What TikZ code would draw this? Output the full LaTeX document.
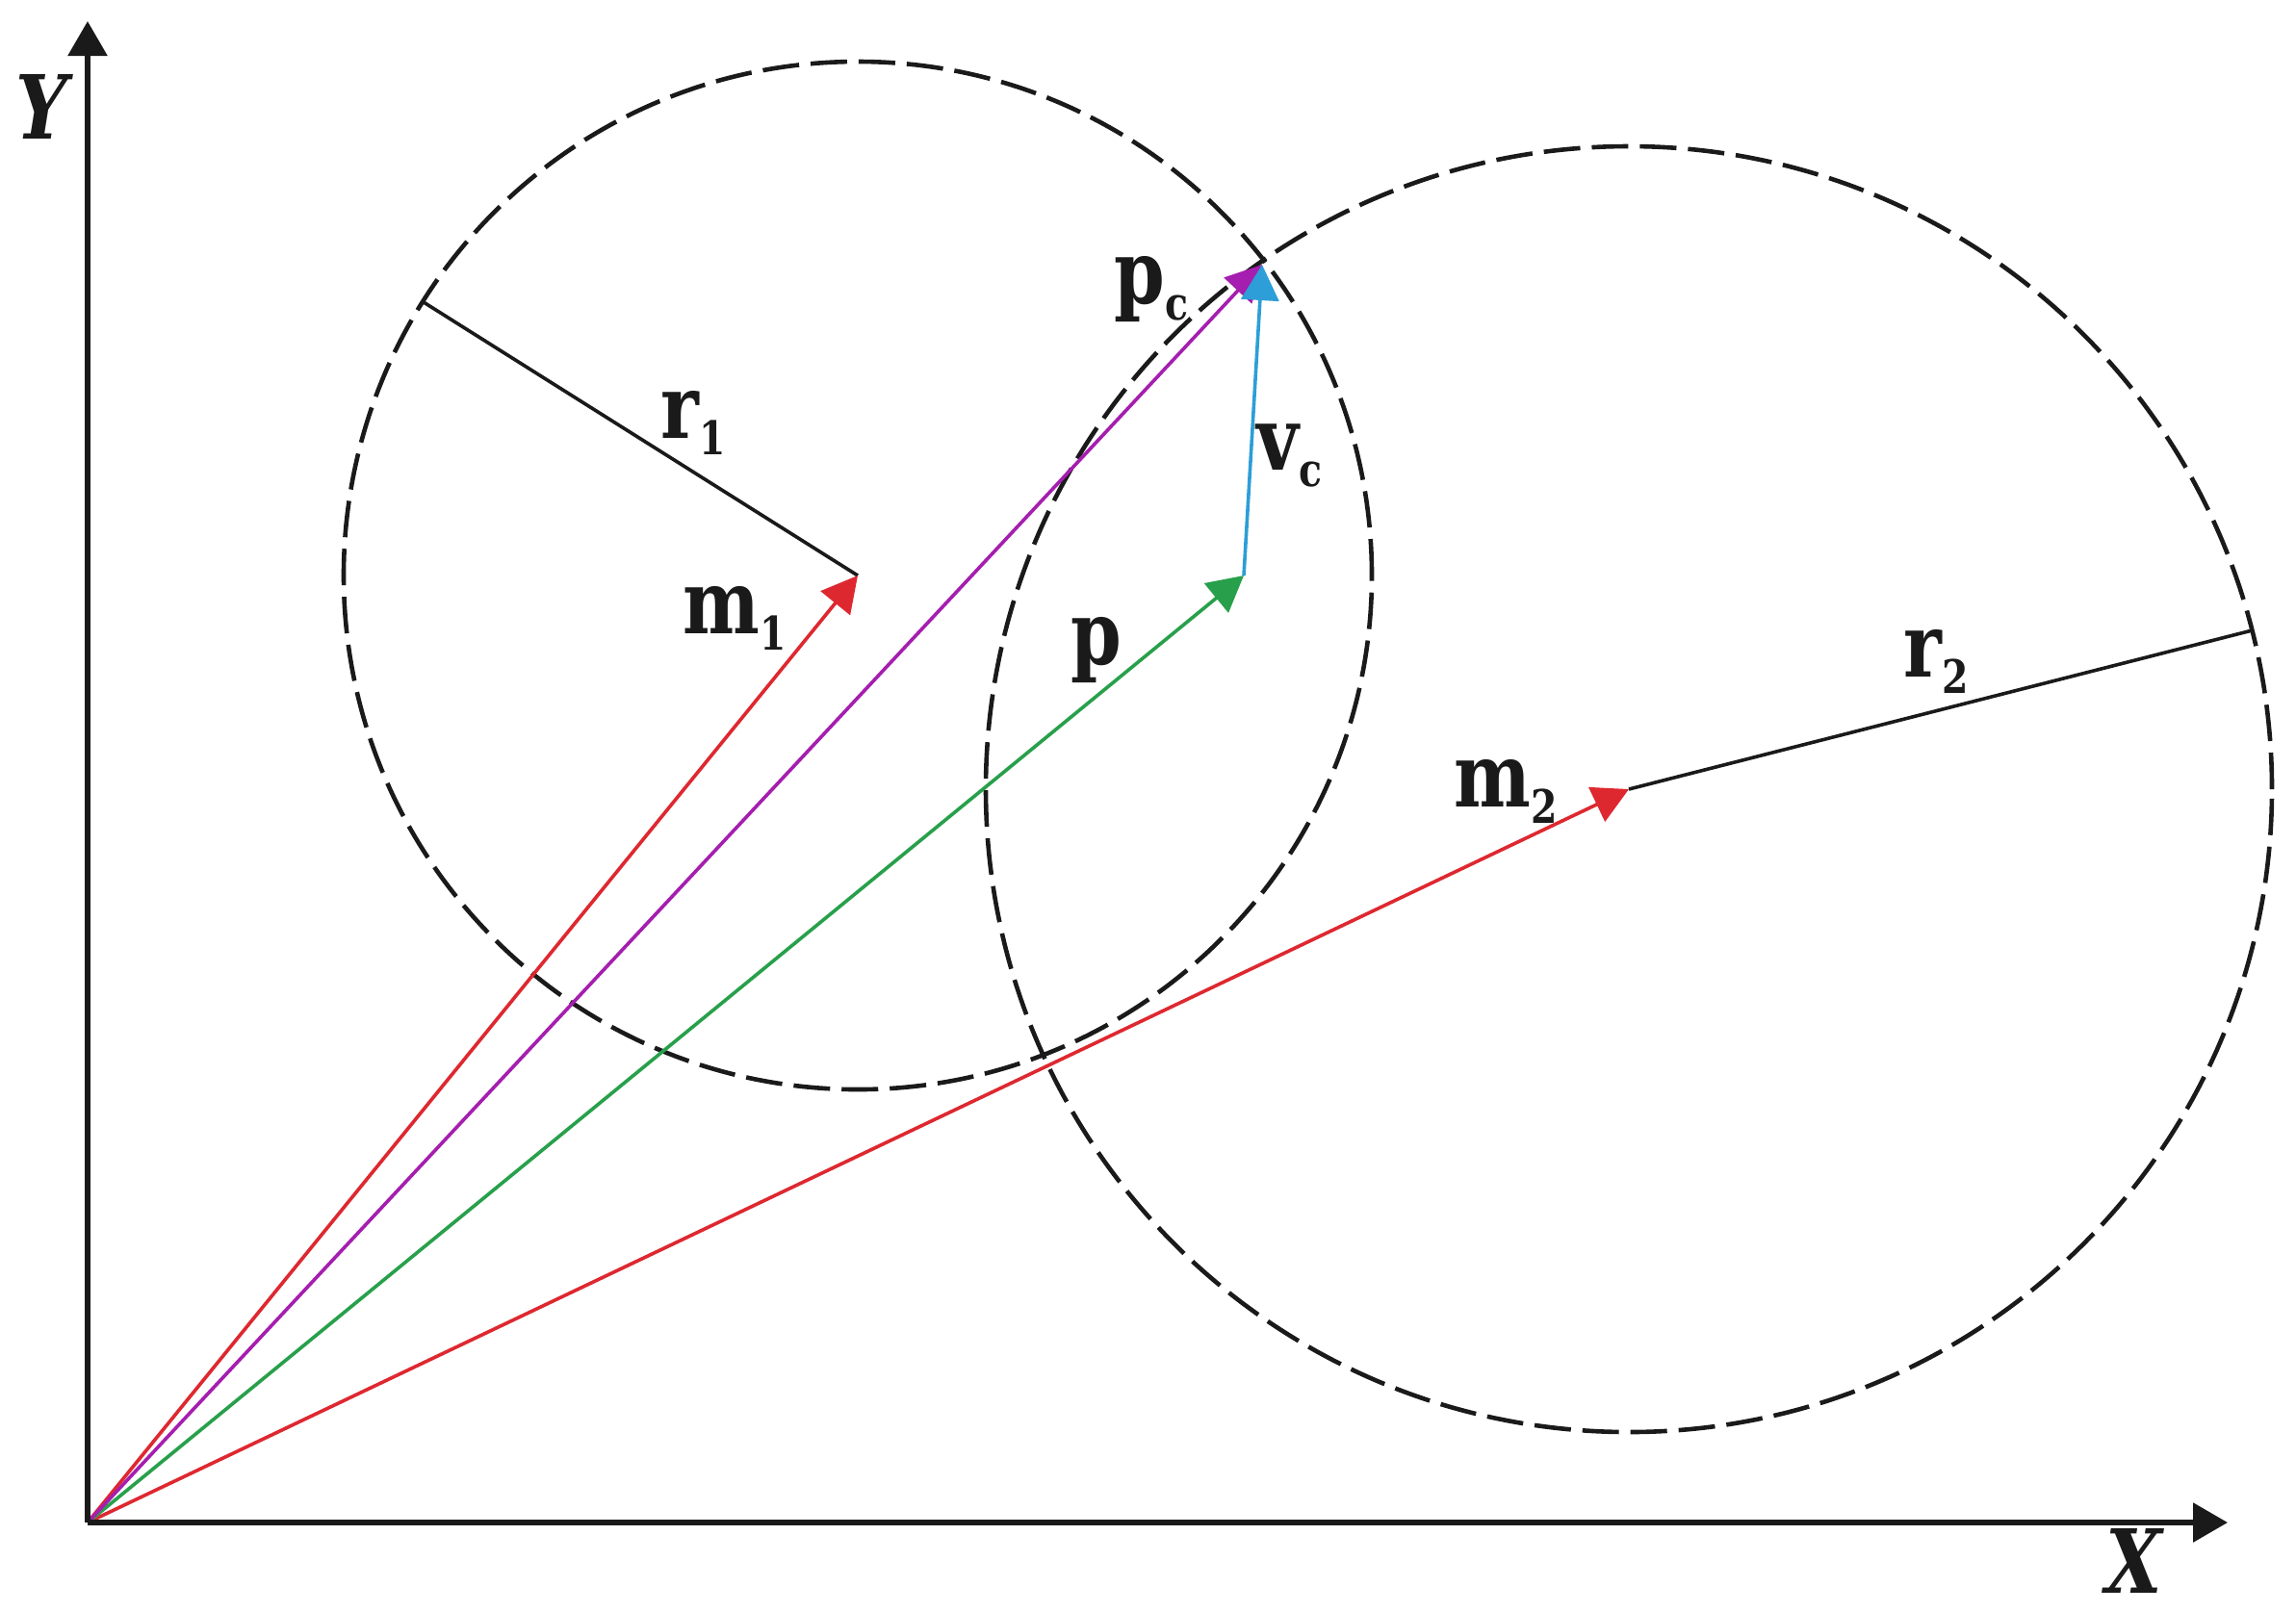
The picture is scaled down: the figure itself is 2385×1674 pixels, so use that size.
\documentclass[tikz,border=0pt]{standalone}
\usepackage{fontspec}
\setmainfont{DejaVu Serif}[FakeStretch=0.82]
\usetikzlibrary{arrows.meta,calc}
\definecolor{vred}{RGB}{222,40,48}
\definecolor{vpurple}{RGB}{165,30,175}
\definecolor{vgreen}{RGB}{40,160,75}
\definecolor{vblue}{RGB}{45,158,215}
\definecolor{ink}{RGB}{26,26,26}
\newcommand\vsub[1]{\raisebox{-4.25pt}{\fontsize{12}{12}\selectfont #1}}
\begin{document}
\begin{tikzpicture}[x=0.25pt,y=-0.25pt,
  axis/.style={draw=ink,line width=1.45pt,-{Triangle[length=9pt,width=10pt]}},
  vec/.style={line width=0.9pt,-{Triangle[length=9.25pt,width=9.75pt]}},
  rad/.style={draw=ink,line width=0.9pt},
  ring/.style={draw=ink,line width=1.15pt,dash pattern=on 9.5pt off 3pt},
  lab/.style={anchor=base west,inner sep=0pt,font=\fontsize{23}{23}\selectfont\bfseries,text=ink},
  axlab/.style={anchor=base west,inner sep=0pt,font=\fontsize{23}{23}\selectfont\bfseries\itshape,text=ink}]
\useasboundingbox (0,0) rectangle (2385,1674);
\coordinate (O) at (91,1582);
\coordinate (Xend) at (2314,1582);
\coordinate (Yend) at (91,22);
\coordinate (m1) at (891,598);
\coordinate (m2) at (1692,820);
\coordinate (p) at (1292,598);
\coordinate (pc) at (1311,275);
\coordinate (r1end) at ($(m1)+(147.8:133.5pt)$);
\coordinate (r2end) at ($(m2)+(14.3:167pt)$);
% circles
\draw[ring] (m1) circle[radius=133.5pt];
\draw[ring] (m2) circle[radius=167pt];
% radii
\draw[rad] (m1) -- (r1end);
\draw[rad] (m2) -- (r2end);
% vectors
\draw[vec,draw=vred] (O) -- (m1);
\draw[vec,draw=vred] (O) -- (m2);
\draw[vec,draw=vgreen] (O) -- (p);
\draw[vec,draw=vpurple] (O) -- (pc);
\draw[vec,draw=vblue] (p) -- (pc);
% axes
\draw[axis] (O) -- (Xend);
\draw[axis] (O) -- (Yend);
% labels
\node[axlab] (LY) at (16,144) {Y};
\node[axlab] (LX) at (2187,1655) {X};
\node[lab] (Lr1) at (686,455) {r\vsub{1}};
\node[lab] (Lr2) at (1977,703) {r\vsub{2}};
\node[lab] (Lm1) at (709,658) {m\vsub{1}};
\node[lab] (Lm2) at (1510,838) {m\vsub{2}};
\node[lab] (Lp) at (1112,690) {p};
\node[lab] (Lpc) at (1157,315) {p\vsub{c}};
\node[lab] (Lvc) at (1305,488) {v\vsub{c}};
\end{tikzpicture}
\end{document}
